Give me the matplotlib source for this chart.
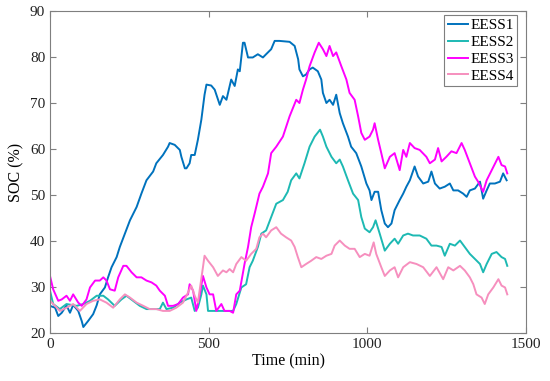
import numpy as np
import matplotlib.pyplot as plt

# SOC traces (time in min, SOC in %)
t1 = [0, 16, 26, 37, 52, 63, 73, 89, 100, 105, 120, 136, 147, 157, 173, 183, 194, 210, 220, 236,
      252, 273, 288, 304, 325, 335, 356, 372, 377, 393, 409, 414, 425, 430, 440, 445, 456, 466,
      477, 487, 493, 508, 519, 535, 545, 556, 571, 582, 592, 598, 608, 613, 624, 639, 655, 671,
      681, 697, 708, 723, 755, 771, 782, 786, 797, 807, 818, 828, 844, 855, 860, 871, 881, 892,
      902, 913, 923, 939, 949, 965, 981, 997, 1007, 1013, 1023, 1034, 1044, 1055, 1065, 1076,
      1086, 1102, 1113, 1123, 1134, 1149, 1160, 1176, 1192, 1202, 1213, 1228, 1244, 1260, 1271,
      1286, 1302, 1313, 1323, 1339, 1355, 1365, 1376, 1386, 1402, 1418, 1428, 1439]
eess1 = [25.9, 25.5, 23.7, 24.4, 26.0, 24.4, 26.1, 24.8, 22.6, 21.3, 22.6, 24.1, 26.0, 28.4, 29.9,
         32.1, 34.3, 36.5, 38.7, 41.6, 44.5, 47.4, 50.3, 53.2, 55.1, 56.9, 58.7, 60.5, 61.3, 60.9,
         59.8, 58.3, 55.8, 55.8, 56.9, 58.7, 58.7, 62.0, 66.4, 71.8, 74.0, 73.8, 72.9, 69.6, 71.5,
         70.7, 75.1, 73.7, 77.3, 76.9, 83.1, 83.1, 79.9, 79.9, 80.6, 79.9, 80.6, 81.7, 83.5, 83.5,
         83.3, 82.4, 79.5, 77.3, 75.8, 76.2, 77.3, 77.7, 76.9, 75.1, 72.2, 70.0, 70.7, 69.6, 71.8,
         67.8, 65.6, 62.7, 60.5, 59.1, 56.2, 52.5, 51.0, 48.9, 50.7, 50.7, 46.7, 43.8, 43.0, 43.8,
         46.7, 48.9, 50.3, 51.8, 53.2, 56.2, 54.0, 52.5, 52.9, 55.1, 52.5, 51.4, 51.8, 52.5, 51.0,
         51.0, 50.3, 49.6, 51.0, 51.4, 52.9, 49.2, 51.0, 52.5, 52.5, 52.9, 54.7, 53.2]

t2 = [0, 10, 31, 52, 84, 105, 126, 147, 168, 183, 204, 225, 241, 262, 283, 304, 325, 346, 356,
      367, 388, 409, 430, 445, 456, 466, 477, 482, 493, 498, 524, 556, 577, 587, 603, 618, 629,
      639, 655, 666, 681, 697, 713, 734, 749, 760, 776, 786, 802, 818, 834, 851, 860, 871, 887,
      902, 913, 923, 939, 955, 971, 981, 992, 1007, 1018, 1026, 1039, 1055, 1071, 1086, 1097,
      1113, 1128, 1144, 1165, 1186, 1202, 1218, 1234, 1244, 1260, 1276, 1292, 1307, 1323, 1339,
      1355, 1365, 1376, 1392, 1407, 1423, 1434, 1441]
eess2 = [29.2, 26.3, 25.2, 26.3, 25.9, 26.3, 27.0, 28.1, 28.1, 27.3, 25.9, 27.3, 28.1, 27.0, 25.9,
         25.2, 25.2, 25.2, 26.6, 25.2, 25.5, 26.6, 27.3, 27.7, 24.8, 25.5, 28.4, 30.3, 28.4, 24.8,
         24.8, 24.8, 24.8, 26.3, 29.9, 30.6, 34.3, 35.7, 38.7, 41.6, 42.3, 45.2, 48.1, 48.9, 50.7,
         53.2, 54.7, 53.6, 56.9, 60.5, 62.7, 64.2, 62.7, 60.5, 58.3, 56.9, 57.7, 56.2, 53.2, 50.3,
         48.9, 45.2, 42.7, 41.9, 43.0, 44.5, 41.6, 37.9, 39.4, 40.5, 39.4, 41.2, 41.6, 41.2, 41.2,
         40.5, 39.0, 39.0, 38.7, 36.8, 39.4, 39.0, 40.1, 38.7, 37.2, 36.1, 35.0, 33.2, 35.0, 37.2,
         37.6, 36.5, 36.1, 34.6]

t3 = [0, 10, 26, 37, 52, 63, 73, 89, 100, 115, 126, 142, 157, 168, 178, 189, 204, 215, 231, 241,
      257, 273, 288, 304, 320, 335, 346, 362, 372, 388, 404, 419, 435, 440, 451, 461, 472, 482,
      493, 503, 514, 524, 540, 550, 566, 577, 587, 598, 613, 624, 634, 645, 660, 671, 687, 697,
      713, 734, 755, 776, 786, 797, 807, 818, 834, 847, 860, 871, 881, 892, 902, 918, 934, 944,
      960, 971, 981, 992, 1007, 1018, 1023, 1034, 1044, 1055, 1071, 1086, 1102, 1113, 1123,
      1134, 1149, 1165, 1186, 1197, 1213, 1223, 1234, 1249, 1265, 1281, 1297, 1307, 1323, 1339,
      1349, 1365, 1376, 1392, 1413, 1423, 1434, 1441]
eess3 = [32.4, 29.5, 27.0, 27.3, 28.1, 27.0, 28.4, 26.6, 25.9, 27.3, 29.9, 31.4, 31.4, 32.1, 31.4,
         29.5, 29.2, 32.1, 34.6, 34.6, 33.2, 32.1, 32.1, 31.4, 31.0, 30.3, 29.2, 28.1, 25.9, 25.9,
         26.3, 27.7, 28.4, 30.6, 29.2, 24.8, 28.4, 32.4, 29.9, 28.4, 28.4, 24.8, 26.3, 24.8, 24.8,
         24.4, 28.4, 29.2, 35.0, 38.7, 43.0, 46.0, 50.3, 51.8, 54.7, 59.1, 60.5, 62.7, 67.1, 70.7,
         70.0, 72.9, 75.1, 78.0, 81.0, 83.1, 81.7, 80.2, 82.4, 80.2, 81.0, 78.0, 75.1, 72.2, 70.7,
         67.1, 63.5, 62.0, 62.7, 64.2, 65.6, 62.0, 59.1, 55.8, 58.3, 59.1, 55.4, 59.8, 58.3, 61.3,
         60.2, 59.8, 58.3, 56.9, 57.7, 60.2, 57.3, 58.3, 59.5, 59.1, 61.3, 59.8, 56.9, 54.0, 52.9,
         50.7, 53.2, 55.4, 58.3, 56.5, 56.2, 54.7]

t4 = [0, 16, 31, 52, 73, 94, 115, 136, 157, 178, 199, 220, 236, 252, 273, 294, 314, 335, 356, 377,
      398, 419, 435, 445, 456, 466, 482, 487, 498, 514, 529, 545, 556, 566, 577, 587, 603, 618,
      634, 650, 660, 671, 681, 697, 713, 728, 744, 760, 771, 781, 792, 807, 823, 839, 855, 871,
      887, 897, 913, 929, 944, 960, 976, 992, 1007, 1020, 1028, 1044, 1055, 1071, 1086, 1097,
      1113, 1134, 1155, 1176, 1197, 1218, 1239, 1255, 1271, 1292, 1307, 1323, 1334, 1344, 1360,
      1370, 1381, 1397, 1413, 1423, 1434, 1441]
eess4 = [27.0, 25.9, 24.8, 25.5, 26.3, 24.8, 26.3, 27.0, 27.3, 26.6, 25.5, 27.3, 28.4, 27.7, 26.6,
         25.9, 25.2, 25.2, 24.8, 24.8, 25.5, 26.6, 28.8, 30.3, 28.1, 26.6, 34.3, 36.8, 35.7, 34.3,
         32.4, 33.6, 33.2, 33.9, 33.2, 35.0, 36.5, 35.7, 37.2, 38.3, 40.8, 41.6, 40.8, 42.3, 43.0,
         41.6, 40.8, 40.1, 38.7, 36.5, 34.3, 35.0, 35.7, 36.5, 36.1, 36.8, 37.2, 39.0, 40.1, 39.0,
         38.3, 38.3, 36.5, 37.2, 36.8, 39.7, 37.2, 34.3, 32.4, 33.6, 34.3, 32.1, 34.3, 35.4, 35.0,
         34.3, 32.4, 34.3, 31.7, 34.3, 33.6, 34.6, 33.6, 32.1, 30.6, 28.4, 27.7, 26.3, 28.4, 29.9,
         31.7, 30.3, 29.9, 28.4]

plt.rcParams['font.family'] = ['Liberation Serif', 'DejaVu Serif']

fig = plt.figure(figsize=(5.5, 3.81), dpi=100)
ax = fig.add_axes([50 / 550, 1 - 333 / 381, 476 / 550, 322 / 381])

ax.plot(t1, eess1, color='#0072BD', lw=1.4, label='EESS1')
ax.plot(t2, eess2, color='#1DB9B3', lw=1.4, label='EESS2')
ax.plot(t3, eess3, color='#FF00FF', lw=1.4, label='EESS3')
ax.plot(t4, eess4, color='#F68FBE', lw=1.4, label='EESS4')

ax.set_xlim(0, 1500)
ax.set_ylim(20, 90)
ax.set_xticks([0, 500, 1000, 1500])
ax.set_yticks(range(20, 91, 10))
ax.set_xlabel('Time (min)', fontsize=11.5, labelpad=2)
ax.set_ylabel('SOC (%)', fontsize=11.5, labelpad=4)

for s in ax.spines.values():
    s.set_color('#7f7f7f')
    s.set_linewidth(0.8)
ax.tick_params(direction='in', top=True, right=True, labelsize=11, colors='#7f7f7f',
               labelcolor='#222222', length=4)

leg = ax.legend(loc='upper right', bbox_to_anchor=(0.982, 0.988), fontsize=11,
                handlelength=1.3, handletextpad=0.15, borderpad=0.25, labelspacing=0.2,
                fancybox=False, framealpha=1, borderaxespad=0)
leg.get_frame().set_edgecolor('#7f7f7f')
leg.get_frame().set_linewidth(0.8)

fig.savefig('out.png', dpi=100)
